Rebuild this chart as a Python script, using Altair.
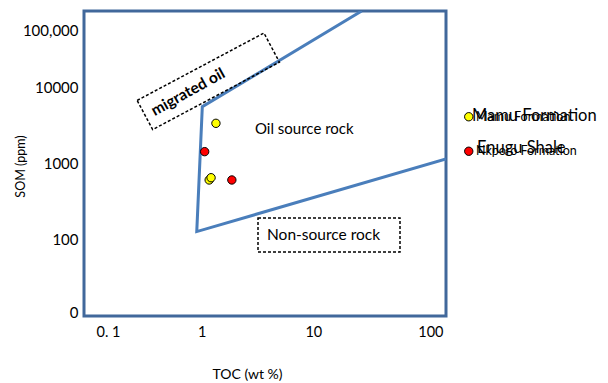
import altair as alt
import pandas as pd

# ---- data ----
mamu_toc = [1.24, 1.09, 1.13]
mamu_som = [3365, 608, 651]
nkporo_toc = [1.0, 1.68]
nkporo_som = [1430, 608]
series_names = ["Mamu Formation", "Nkporo Formation"]
series_colors = ["#ffff00", "#ff0000"]

boundary_toc = [20, 0.956, 0.86, 100]
boundary_som = [100000, 5560, 128, 1145]

x_ticks = [0.1, 1, 10, 100]
y_ticks = [10, 100, 1000, 10000, 100000]

FONT = "Lato"

pts = pd.DataFrame({
    "toc": mamu_toc + nkporo_toc,
    "som": mamu_som + nkporo_som,
    "formation": [series_names[0]] * len(mamu_toc) + [series_names[1]] * len(nkporo_toc),
})
bound = pd.DataFrame({"toc": boundary_toc, "som": boundary_som, "idx": list(range(len(boundary_toc)))})

x_scale = alt.Scale(type="log", domain=[0.1, 100], nice=False)
y_scale = alt.Scale(type="log", domain=[10, 100000], nice=False)

x_axis = alt.Axis(
    values=x_ticks,
    labelExpr="datum.value < 0.5 ? '0. 1' : datum.value < 5 ? '1' : datum.value < 50 ? '10' : '100'",
    labelFont=FONT, labelFontSize=14.5, labelColor="black", labelPadding=9,
    labelOffset={"condition": [
        {"test": "datum.value < 0.5", "value": 12},
        {"test": "datum.value > 5 && datum.value < 50", "value": -12},
    ], "value": -3},
    domain=False, ticks=False, grid=False,
    title="TOC (wt %)", titleFont=FONT, titleFontSize=14, titleFontWeight="normal",
    titleColor="black", titleX=163, titleY=58, titleAlign="center", titleBaseline="middle",
)
y_axis = alt.Axis(
    values=y_ticks,
    labelExpr="datum.value < 50 ? '0' : datum.value < 500 ? '100' : datum.value < 5000 ? '1000' : datum.value < 50000 ? '10000' : '100,000'",
    labelFont=FONT, labelFontSize=15, labelColor="black", labelPadding=6, labelBaseline="middle",
    labelOffset={"condition": [
        {"test": "datum.value > 50000", "value": 19},
        {"test": "datum.value < 50", "value": -4},
    ], "value": 0},
    domain=False, ticks=False, grid=False,
    title="SOM (ppm)", titleFont=FONT, titleFontSize=12.5, titleFontWeight="normal",
    titleColor="black", titleX=-64, titleY=155, titleAngle=270, titleAlign="center",
    titleBaseline="middle",
)

line = alt.Chart(bound).mark_line(color="#4a7ebb", strokeWidth=3, clip=True).encode(
    x=alt.X("toc:Q", scale=x_scale, axis=x_axis),
    y=alt.Y("som:Q", scale=y_scale, axis=y_axis),
    order="idx:Q",
)

points = alt.Chart(pts).mark_point(filled=True, shape="circle", size=70, stroke="black",
                                   strokeWidth=1, opacity=1).encode(
    x=alt.X("toc:Q", scale=x_scale),
    y=alt.Y("som:Q", scale=y_scale),
    color=alt.Color("formation:N", scale=alt.Scale(domain=series_names, range=series_colors),
                    legend=alt.Legend(orient="none", legendX=378.5, legendY=99.5, title=None,
                                      labelFont=FONT, labelFontSize=12.5, labelColor="black",
                                      symbolSize=70, symbolStrokeColor="black",
                                      symbolStrokeWidth=1, symbolType="circle",
                                      rowPadding=21.5, padding=0, labelOffset=1)),
)

def text_layer(label, x, y, size, weight="normal", angle=0, align="left"):
    kw = dict(align=align, baseline="middle", font=FONT, fontSize=size,
              fontWeight=weight, color="black")
    if angle:
        kw["angle"] = angle
    return alt.Chart(pd.DataFrame({"t": [label]})).mark_text(**kw).encode(
        text="t:N", x=alt.value(x), y=alt.value(y))

oil = text_layer("Oil source rock", 171, 118, 15)
non_box = alt.Chart(pd.DataFrame({"t": [0]})).mark_rect(
    fill="white", stroke="black", strokeWidth=1.5, strokeDash=[3, 2]).encode(
    x=alt.value(174), x2=alt.value(316), y=alt.value(207), y2=alt.value(241))
non = text_layer("Non-source rock", 183, 224, 15.5)

mig_box = alt.Chart(pd.DataFrame({"t": [0]})).mark_point(
    shape="M-1,-0.23L1,-0.23L1,0.23L-1,0.23Z", size=20620, filled=False,
    stroke="black", strokeWidth=1.5, strokeDash=[3, 2], angle=332, opacity=1).encode(
    x=alt.value(124.3), y=alt.value(70.3))
mig = text_layer("migrated oil", 104, 81, 15.5, weight="bold", angle=331, align="center")

big_mamu = text_layer("Mamu Formation", 388, 104.5, 16.5)
big_enugu = text_layer("Enugu Shale", 393, 137, 16.5)

chart = alt.layer(line, non_box, non, mig_box, mig, oil, points, big_mamu, big_enugu).properties(
    width=362, height=305,
    autosize=alt.AutoSizeParams(type="none"),
    padding={"left": 76, "top": 3, "right": 154, "bottom": 67},
).configure_view(stroke="#41689b", strokeWidth=3)

chart.save("out.html", embed_options={"renderer": "svg", "actions": False})
